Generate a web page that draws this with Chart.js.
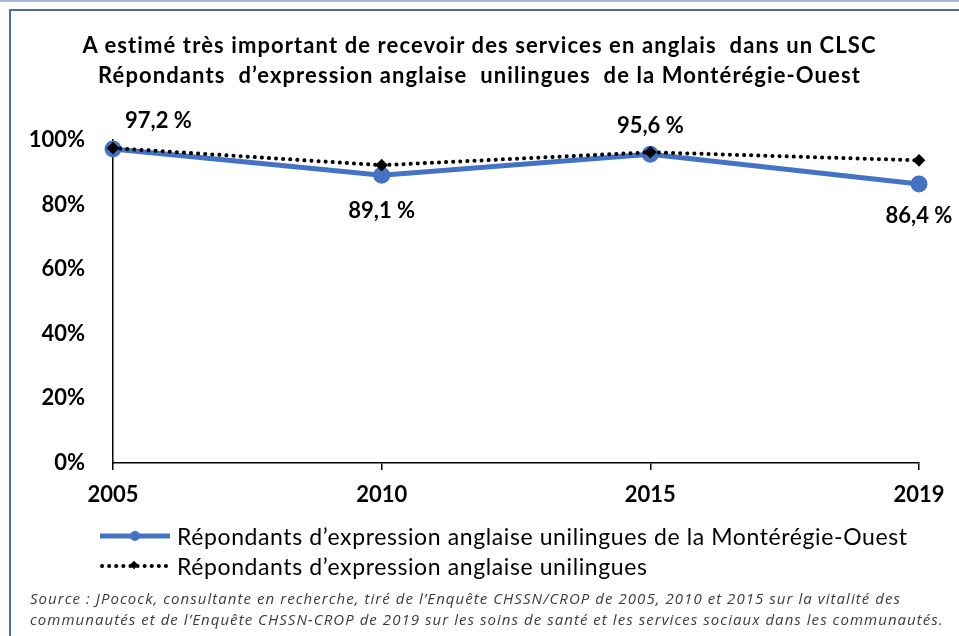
<!DOCTYPE html>
<html lang="fr">
<head>
<meta charset="utf-8">
<title>Services en anglais dans un CLSC</title>
<script src="https://cdn.jsdelivr.net/npm/chart.js@4.4.1/dist/chart.umd.min.js"></script>
<style>
  html, body { margin: 0; padding: 0; background: #fff; }
  body { width: 959px; height: 636px; position: relative; overflow: hidden; font-family: Lato, "Open Sans", sans-serif; color: #000; }
  #topline { position: absolute; left: 0; top: 0; width: 959px; height: 2px; background: #a9b8d6; }
  #frame { position: absolute; left: 9px; top: 9px; width: 980px; height: 660px; border: 2px solid #4a6aa8; box-sizing: border-box; }
  #wrap { position: absolute; left: 0; top: 0; width: 959px; height: 636px; }
  .title { position: absolute; left: 0; width: 959px; text-align: center; font-weight: bold; font-size: 22px; letter-spacing: 1.1px; }
  .leg { position: absolute; left: 100px; height: 26px; font-size: 23px; letter-spacing: 0.6px; display: flex; align-items: center; white-space: nowrap; }
  .leg svg { margin-right: 7px; }
  .src { position: absolute; left: 30px; font-family: "Open Sans", sans-serif; font-style: italic; font-size: 15px; letter-spacing: 1.05px; color: #3c3c3c; white-space: nowrap; }
</style>
</head>
<body>
<div id="topline"></div>
<div id="frame"></div>
<div id="wrap"><canvas id="myChart" width="959" height="636"></canvas></div>
<div class="title" style="top:31px">A estimé très important de recevoir des services en anglais&nbsp; dans un CLSC</div>
<div class="title" style="top:61px">Répondants &nbsp;d’expression anglaise &nbsp;unilingues &nbsp;de la Montérégie-Ouest</div>
<div class="leg" style="top:523px">
  <svg width="70" height="14"><line x1="0" y1="7" x2="70" y2="7" stroke="#4472c4" stroke-width="5"/><circle cx="35" cy="7" r="5" fill="#4472c4"/></svg>
  <span id="leg1"></span>
</div>
<div class="leg" style="top:553px">
  <svg width="70" height="14"><line x1="2" y1="7" x2="66" y2="7" stroke="#000" stroke-width="4" stroke-dasharray="0.1 7" stroke-linecap="round"/><rect x="31" y="3" width="6" height="6" transform="rotate(45 34 6)" fill="#000"/></svg>
  <span id="leg2"></span>
</div>
<div class="src" style="top:588px">Source : JPocock, consultante en recherche, tiré de l’Enquête CHSSN/CROP de 2005, 2010 et 2015 sur la vitalité des</div>
<div class="src" style="top:609px">communautés et de l’Enquête CHSSN-CROP de 2019 sur les soins de santé et les services sociaux dans les communautés.</div>
<script>
'use strict';

// Chart data
const years = ['2005', '2010', '2015', '2019'];
const monteregieOuest = [97.2, 89.1, 95.6, 86.4];
const unilingues = [97.5, 92.2, 96.2, 93.7];
const seriesNames = [
    'Répondants d’expression anglaise unilingues de la Montérégie-Ouest',
    'Répondants d’expression anglaise unilingues'
];
const yTicks = [0, 20, 40, 60, 80, 100];

document.getElementById('leg1').textContent = seriesNames[0];
document.getElementById('leg2').textContent = seriesNames[1];

const FONT = 'Lato, "Open Sans", sans-serif';

// Where each data label sits relative to its point (dx, dy, align)
const labelPlacement = [
    [12, -28, 'left'],
    [0, 36, 'center'],
    [0, -28, 'center'],
    [0, 32, 'center']
];

// Draws the percentage labels of the blue series
const valueLabels = {
    id: 'valueLabels',
    afterDatasetsDraw(chart) {
        const ctx = chart.ctx;
        const meta = chart.getDatasetMeta(0);
        ctx.save();
        ctx.font = 'bold 22px ' + FONT;
        ctx.fillStyle = '#000';
        ctx.textBaseline = 'middle';
        meta.data.forEach((pt, i) => {
            const p = labelPlacement[i];
            ctx.textAlign = p[2];
            const txt = monteregieOuest[i].toFixed(1).replace('.', ',') + ' %';
            ctx.fillText(txt, pt.x + p[0], pt.y + p[1]);
        });
        ctx.restore();
    }
};

const ctx = document.getElementById('myChart').getContext('2d');
new Chart(ctx, {
    type: 'line',
    data: {
        labels: years,
        datasets: [{
            label: seriesNames[0],
            data: monteregieOuest,
            borderColor: '#4472c4',
            backgroundColor: '#4472c4',
            borderWidth: 5,
            pointRadius: 6,
            pointHoverRadius: 6,
            pointStyle: 'circle',
            order: 1
        }, {
            label: seriesNames[1],
            data: unilingues,
            borderColor: '#000',
            backgroundColor: '#000',
            borderWidth: 4,
            borderDash: [0.1, 7],
            borderCapStyle: 'round',
            pointStyle: 'rectRot',
            pointRadius: 3.5,
            pointHoverRadius: 3.5,
            order: 0
        }]
    },
    options: {
        responsive: false,
        animation: false,
        events: [],
        layout: { padding: { top: 140, right: 40, bottom: 133, left: 10 } },
        plugins: {
            legend: { display: false },
            title: { display: false },
            tooltip: { enabled: false }
        },
        scales: {
            x: {
                offset: false,
                afterFit(scale) { scale.height = 40; },
                grid: { display: true, drawOnChartArea: false, drawTicks: true, tickLength: 7, color: '#000', lineWidth: 1.5 },
                border: { display: true, color: '#000', width: 1.5 },
                ticks: { color: '#000', padding: 12, maxRotation: 0, font: { family: FONT, size: 22, weight: 'bold' } }
            },
            y: {
                min: 0,
                max: 100,
                afterFit(scale) { scale.width = 103; },
                afterBuildTicks(scale) { scale.ticks = yTicks.map(v => ({ value: v })); },
                grid: { display: true, drawOnChartArea: false, drawTicks: true, tickLength: 28, color: 'rgba(0,0,0,0)' },
                border: { display: true, color: '#000', width: 1.5 },
                ticks: {
                    color: '#000',
                    padding: 0,
                    font: { family: FONT, size: 22, weight: 'bold' },
                    callback: v => v + '%'
                }
            }
        }
    },
    plugins: [valueLabels]
});
</script>
</body>
</html>
